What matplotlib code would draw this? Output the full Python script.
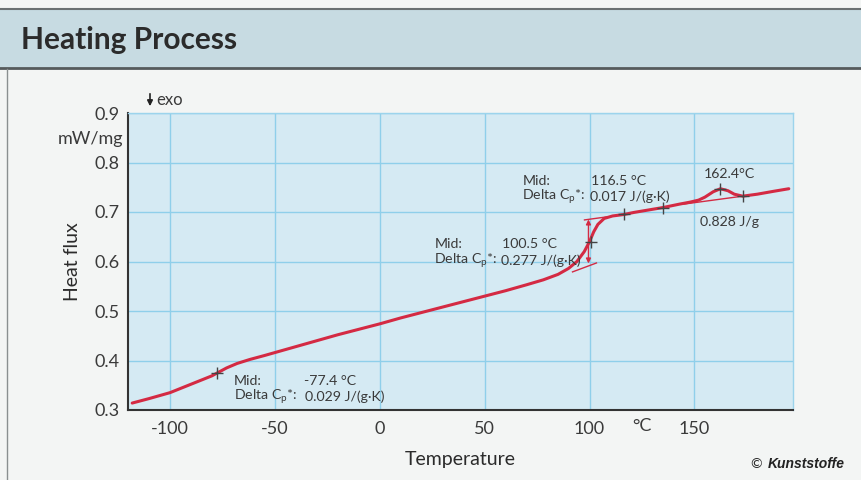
import matplotlib
matplotlib.use("Agg")
import matplotlib.pyplot as plt
from matplotlib.patches import Rectangle, FancyArrowPatch
from matplotlib.lines import Line2D

# ---------------- data ----------------
temperature = [-118, -110, -100, -90, -80, -77.4, -73, -68, -62, -55, -45, -35, -20, -10,
               0, 10, 20, 30, 40, 50, 60, 70, 78, 85, 90, 94, 97.5, 100, 102, 104, 107,
               111, 116.5, 121, 128, 135, 143, 148, 152, 155, 159, 162.4, 166, 169, 173,
               180, 188, 195]
heat_flux = [0.314, 0.323, 0.335, 0.352, 0.369, 0.375, 0.385, 0.394, 0.402, 0.410, 0.422,
             0.434, 0.452, 0.463, 0.474, 0.486, 0.497, 0.508, 0.519, 0.530, 0.541, 0.553,
             0.563, 0.574, 0.586, 0.600, 0.620, 0.640, 0.660, 0.675, 0.687, 0.692, 0.695,
             0.699, 0.704, 0.709, 0.716, 0.720, 0.724, 0.730, 0.741, 0.747, 0.743, 0.736,
             0.732, 0.736, 0.742, 0.747]

marker_t = [-77.4, 100.5, 116.5, 135, 162.4, 173]
marker_v = [0.375, 0.640, 0.695, 0.709, 0.747, 0.732]

lower_tangent_t = [91.9, 103.3]
lower_tangent_v = [0.579, 0.597]
upper_tangent_t = [97.6, 108]
upper_tangent_v = [0.684, 0.690]
arrow_t = 99.5
arrow_v = [0.596, 0.685]
melt_baseline_t = [145, 173]
melt_baseline_v = [0.716, 0.732]

x_ticks = [-100, -50, 0, 50, 100, 150]
y_ticks = [0.3, 0.4, 0.5, 0.6, 0.7, 0.8, 0.9]

# ---------------- style ----------------
FONT = ["Lato", "DejaVu Sans"]
plt.rcParams["font.family"] = FONT
plt.rcParams["mathtext.fontset"] = "custom"
plt.rcParams["mathtext.rm"] = "Lato"
plt.rcParams["mathtext.it"] = "Lato:italic"

RED = "#d42a43"
TXT = "#3a3a3a"
GRID = "#8fcfea"
PLOTBG = "#d5eaf3"
BODY = "#f3f5f4"
HEADER = "#c7dbe2"

W, H = 861, 480
fig = plt.figure(figsize=(W / 100, H / 100), dpi=100, facecolor=BODY)

def fx(px):
    return px / W

def fy(py):
    return 1 - py / H

# header band
fig.patches.append(Rectangle((0, fy(68)), 1, fy(10) - fy(68), transform=fig.transFigure,
                             facecolor=HEADER, edgecolor="none", zorder=0))
fig.lines.append(Line2D([0, 1], [fy(68), fy(68)], transform=fig.transFigure,
                        color="#555a5c", lw=2))
fig.lines.append(Line2D([0, 1], [fy(9), fy(9)], transform=fig.transFigure,
                        color="#6a7072", lw=1.5))
fig.lines.append(Line2D([fx(7), fx(7)], [fy(69), 0], transform=fig.transFigure,
                        color="#8a8f90", lw=1))
fig.text(fx(21), fy(40), "Heating Process", fontsize=21.5, fontweight="bold",
         color="#2b2b2b", va="center", ha="left")

# axes
ax = fig.add_axes([fx(128), fy(410), fx(793) - fx(128), fy(113) - fy(410)])
ax.set_facecolor(PLOTBG)
ax.set_xlim(-120, 197)
ax.set_ylim(0.3, 0.9)
ax.set_xticks(x_ticks)
ax.set_yticks(y_ticks)
ax.set_xticklabels([str(t) for t in x_ticks])
ax.set_yticklabels([f"{v:.1f}" for v in y_ticks])
ax.tick_params(length=0, labelsize=13, colors=TXT)
ax.tick_params(axis="x", pad=8)
ax.tick_params(axis="y", pad=6)
ax.grid(True, color=GRID, lw=1)
ax.set_axisbelow(True)
for s in ["left", "bottom"]:
    ax.spines[s].set_color("#333333")
    ax.spines[s].set_linewidth(1.5)
for s in ["top", "right"]:
    ax.spines[s].set_color("#9cd4ec")
    ax.spines[s].set_linewidth(1)

# curve and construction lines
ax.plot(temperature, heat_flux, color=RED, lw=2.2, zorder=3, solid_capstyle="round")
ax.plot(lower_tangent_t, lower_tangent_v, color=RED, lw=1, zorder=3)
ax.plot(upper_tangent_t, upper_tangent_v, color=RED, lw=1, zorder=3)
ax.plot(melt_baseline_t, melt_baseline_v, color=RED, lw=1, zorder=3)
ax.annotate("", xy=(arrow_t, arrow_v[1]), xytext=(arrow_t, arrow_v[0]),
            arrowprops=dict(arrowstyle="<|-|>", color=RED, lw=1, mutation_scale=7,
                            shrinkA=0, shrinkB=0), zorder=4)
ax.plot(marker_t, marker_v, ls="none", marker="+", ms=8, mew=1, color="#444444", zorder=5)

# annotations
AFS = 10.2
cp = "Delta C$_{\\mathrm{p}}$*:"
ax.text(-69.5, 0.359, "Mid:", fontsize=AFS, color=TXT, va="center")
ax.text(-36, 0.359, "-77.4 °C", fontsize=AFS, color=TXT, va="center")
ax.text(-69.5, 0.326, cp, fontsize=AFS, color=TXT, va="center")
ax.text(-35.5, 0.326, "0.029 J/(g·K)", fontsize=AFS, color=TXT, va="center")

ax.text(26, 0.636, "Mid:", fontsize=AFS, color=TXT, va="center")
ax.text(58.5, 0.636, "100.5 °C", fontsize=AFS, color=TXT, va="center")
ax.text(26, 0.602, cp, fontsize=AFS, color=TXT, va="center")
ax.text(58, 0.602, "0.277 J/(g·K)", fontsize=AFS, color=TXT, va="center")

ax.text(68, 0.762, "Mid:", fontsize=AFS, color=TXT, va="center")
ax.text(100.5, 0.762, "116.5 °C", fontsize=AFS, color=TXT, va="center")
ax.text(68, 0.730, cp, fontsize=AFS, color=TXT, va="center")
ax.text(100, 0.730, "0.017 J/(g·K)", fontsize=AFS, color=TXT, va="center")

ax.text(154.5, 0.776, "162.4°C", fontsize=AFS, color=TXT, va="center")
ax.text(152.5, 0.679, "0.828 J/g", fontsize=AFS, color=TXT, va="center")

# axis texts
ax.text(125, -0.028, "°C", transform=ax.get_xaxis_transform(), fontsize=13, color=TXT,
        ha="center", va="top")
fig.text(fx(123), fy(139), "mW/mg", fontsize=13, color=TXT, ha="right", va="center")
fig.text(fx(72), fy(262), "Heat flux", fontsize=14, color="#2b2b2b", rotation=90,
         ha="center", va="center")
fig.text(fx(460), fy(460), "Temperature", fontsize=14, color="#2b2b2b",
         ha="center", va="center")
fig.text(fx(156), fy(100), "exo", fontsize=12, color=TXT, ha="left", va="center")
fig.patches.append(FancyArrowPatch(
    (fx(150), fy(91)), (fx(150), fy(109)), transform=fig.transFigure,
    arrowstyle="-|>", mutation_scale=8, color="#222222", lw=1.2))
fig.text(fx(750), fy(464), "©", fontsize=10, color="#222222", ha="left", va="center")
fig.text(fx(768), fy(464), "Kunststoffe", fontsize=10, fontweight="bold",
         fontstyle="italic", color="#222222", ha="left", va="center",
         family=["Liberation Sans", "DejaVu Sans"])

fig.savefig("out.png", dpi=100, facecolor=BODY)
